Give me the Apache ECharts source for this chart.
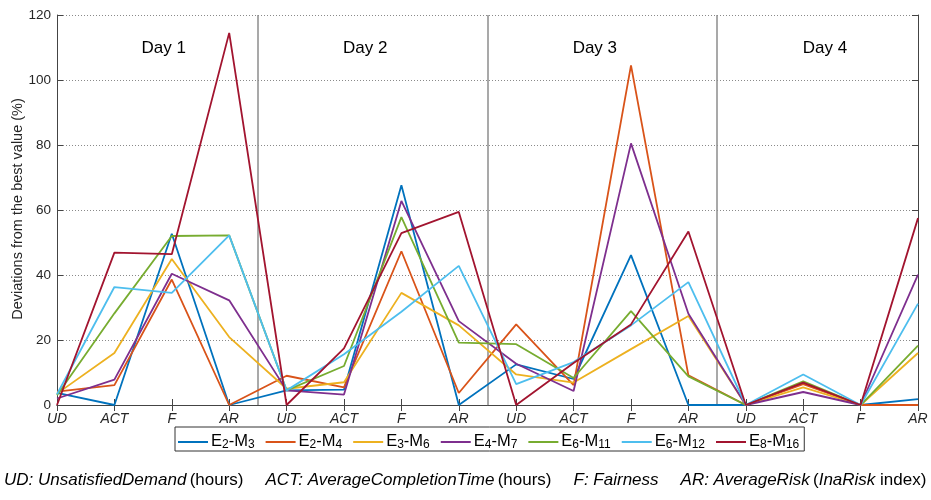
<!DOCTYPE html>
<html>
<head>
<meta charset="utf-8">
<script src="https://cdn.jsdelivr.net/npm/echarts@6/dist/echarts.min.js"></script>
<style>html,body{margin:0;padding:0;background:#fff}#c{width:931px;height:500px}</style>
</head>
<body>
<div id="c"></div>
<script>
const categories = ['UD','ACT','F','AR','UD','ACT','F','AR','UD','ACT','F','AR','UD','ACT','F','AR'];
const dayLabels = ['Day 1','Day 2','Day 3','Day 4'];
const yAxisTitle = 'Deviations from the best value (%)';
const seriesNames = ['E2-M3','E2-M4','E3-M6','E4-M7','E6-M11','E6-M12','E8-M16'];
const seriesSubs = [['2','3'],['2','4'],['3','6'],['4','7'],['6','11'],['6','12'],['8','16']];
const colors = ['#0072BD','#D95319','#EDB120','#7E2F8E','#77AC30','#4DBEEE','#A2142F'];

const E2_M3  = [3.7, 0,    52.7, 0,    4.5, 4.7,  67.6, 0,    12.5, 8.0,  46.1, 0,    0, 6.8, 0, 1.8];
const E2_M4  = [4.1, 6.1,  38.6, 0,    9.0, 5.4,  47.3, 3.7,  24.8, 6.1,  104.5, 9.1, 0, 6.4, 0, 0];
const E3_M6  = [3.5, 16.0, 44.9, 20.9, 5.0, 7.0,  34.5, 24.5, 9.4,  6.9,  17.2, 27.4, 0, 5.4, 0, 16.0];
const E4_M7  = [2.0, 7.8,  40.4, 32.2, 4.5, 3.2,  62.8, 25.8, 12.7, 4.3,  80.5, 28.1, 0, 4.0, 0, 40.1];
const E6_M11 = [3.0, 28.2, 52.0, 52.2, 4.5, 12.0, 57.8, 19.2, 18.7, 8.3,  28.9, 8.8,  0, 7.3, 0, 18.3];
const E6_M12 = [3.3, 36.3, 34.5, 52.2, 4.5, 15.6, 28.7, 42.8, 6.4,  13.2, 24.5, 37.8, 0, 9.4, 0, 31.2];
const E8_M16 = [0,   46.9, 46.4, 114.5, 0,  17.4, 52.9, 59.4, 0,    12.9, 24.8, 53.4, 0, 6.9, 0, 57.5];
const seriesValues = [E2_M3, E2_M4, E3_M6, E4_M7, E6_M11, E6_M12, E8_M16];

const font = 'Liberation Sans, Arial, Helvetica, sans-serif';
const chart = echarts.init(document.getElementById('c'), null, {renderer:'canvas'});

const series = seriesNames.map((n, i) => ({
  name: n,
  type: 'line',
  symbol: 'none',
  color: colors[i],
  lineStyle: {width: 1.8, color: colors[i]},
  data: seriesValues[i].map((v, j) => [j + 1, v]),
  z: 3 + i
}));

series[0].markLine = {
  silent: true, symbol: 'none', label: {show: false},
  lineStyle: {color: '#8c8c8c', type: 'solid', width: 1.5},
  data: [{xAxis: 4.5}, {xAxis: 8.5}, {xAxis: 12.5}],
  z: 1
};
series[0].markPoint = {
  silent: true, symbol: 'circle', symbolSize: 0,
  label: {show: true, position: 'inside', formatter: '{b}', color: '#000', fontSize: 17, fontFamily: font},
  data: dayLabels.map((d, k) => ({name: d, coord: [[2.86, 6.37, 10.37, 14.38][k], 109.9]}))
};

const legendFmt = {};
seriesNames.forEach((n, i) => {
  legendFmt[n] = '{m|E}{s|' + seriesSubs[i][0] + '}{m|-M}{s|' + seriesSubs[i][1] + '}';
});

chart.setOption({
  animation: false,
  textStyle: {fontFamily: font},
  grid: {left: 57, right: 13, top: 15, bottom: 95, containLabel: false, outerBoundsMode: 'none'},
  legend: {
    data: seriesNames,
    left: 175, top: 427,
    orient: 'horizontal',
    icon: 'rect', itemWidth: 30, itemHeight: 2, itemGap: 11,
    borderColor: '#333', borderWidth: 1, padding: [1, 5, 0, 3],
    formatter: n => legendFmt[n],
    textStyle: {
      fontSize: 16.5, color: '#000', fontFamily: font, padding: [0, 0, 0, -2],
      rich: {
        m: {fontSize: 16.5, fontFamily: font, color: '#000', verticalAlign: 'top', lineHeight: 18},
        s: {fontSize: 12, fontFamily: font, color: '#000', verticalAlign: 'bottom', lineHeight: 13, padding: [11, 0, 0, 0]}
      }
    }
  },
  xAxis: [{
    type: 'value', min: 1, max: 16, interval: 1, position: 'bottom',
    axisLine: {lineStyle: {color: '#444', width: 1}},
    axisTick: {inside: true, length: 6, lineStyle: {color: '#444'}},
    axisLabel: {
      formatter: v => categories[Math.round(v) - 1] || '',
      fontStyle: 'italic', fontSize: 14, color: '#262626', margin: 7, fontFamily: font
    },
    splitLine: {show: false}
  }, {
    type: 'value', min: 1, max: 16, interval: 1, position: 'top',
    axisLine: {show: true, lineStyle: {color: '#444', width: 1}},
    axisTick: {inside: true, length: 6, lineStyle: {color: '#444'}},
    axisLabel: {show: false}, splitLine: {show: false}
  }],
  yAxis: [{
    type: 'value', min: 0, max: 120, interval: 20, position: 'left',
    axisLine: {show: true, lineStyle: {color: '#444', width: 1}},
    axisTick: {show: true, inside: true, length: 6, lineStyle: {color: '#444'}},
    axisLabel: {fontSize: 13.5, color: '#262626', margin: 6, fontFamily: font},
    splitLine: {show: true, lineStyle: {color: '#8a8a8a', type: [1, 2], width: 1}}
  }, {
    type: 'value', min: 0, max: 120, interval: 20, position: 'right',
    axisLine: {show: true, lineStyle: {color: '#444', width: 1}},
    axisTick: {show: true, inside: true, length: 6, lineStyle: {color: '#444'}},
    axisLabel: {show: false}, splitLine: {show: false}
  }],
  graphic: [{
    type: 'text', x: 18, y: 209, rotation: Math.PI / 2, silent: true,
    style: {
      text: yAxisTitle, fontSize: 14.5, fontFamily: font, fill: '#262626',
      align: 'center', verticalAlign: 'middle'
    }
  }, {
    type: 'text', left: 4, top: 472, silent: true,
    style: {
      text: '{i|UD: UnsatisfiedDemand} {n|(hours)}{g|}{i|ACT: AverageCompletionTime} {n|(hours)}{g|}{i|F: Fairness}{g|}{i|AR: AverageRisk} {n|(}{i|InaRisk}{n| index)}',
      rich: {
        i: {fontStyle: 'italic', fontSize: 17, fontFamily: font, fill: '#000'},
        n: {fontSize: 17, fontFamily: font, fill: '#000'},
        g: {width: 22, fontSize: 17}
      }
    }
  }],
  series: series
});
</script>
</body>
</html>
